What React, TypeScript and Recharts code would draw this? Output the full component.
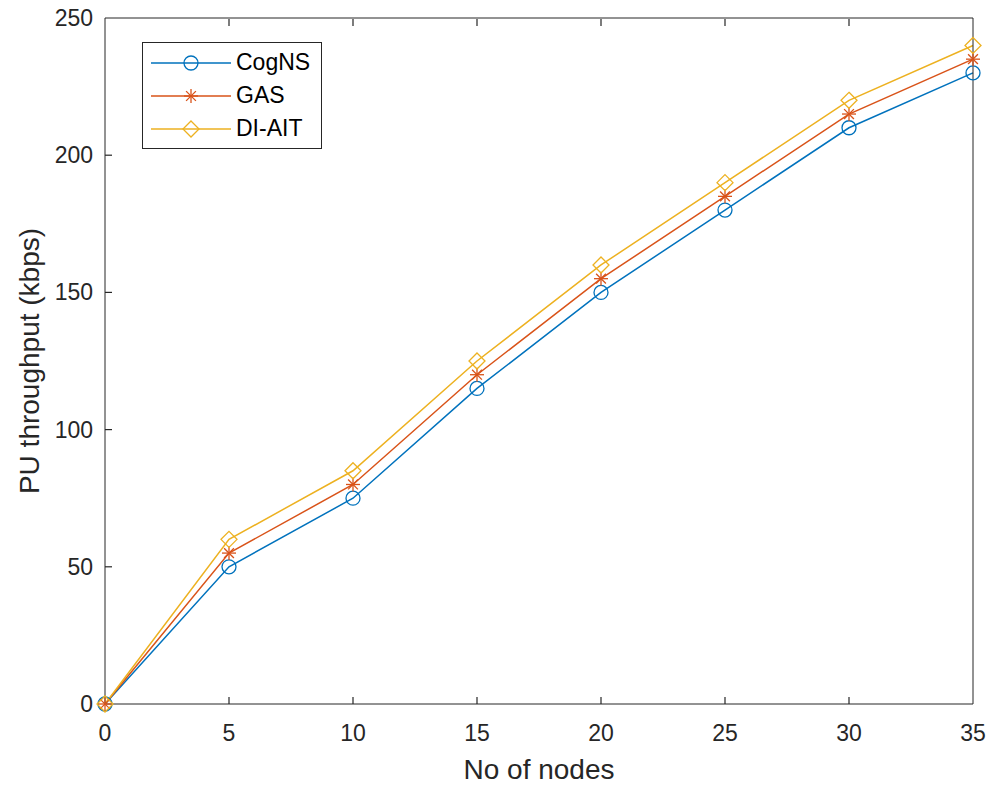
import { LineChart, Line, XAxis, YAxis } from 'recharts';

const nodes = [0, 5, 10, 15, 20, 25, 30, 35];
const cogns = [0, 50, 75, 115, 150, 180, 210, 230];
const gas = [0, 55, 80, 120, 155, 185, 215, 235];
const diait = [0, 60, 85, 125, 160, 190, 220, 240];
const xTicks = [0, 5, 10, 15, 20, 25, 30, 35];
const yTicks = [0, 50, 100, 150, 200, 250];

const series = [
	{ key: 'cogns', name: 'CogNS', color: '#0072BD', shape: 'circle' },
	{ key: 'gas', name: 'GAS', color: '#D95319', shape: 'star' },
	{ key: 'diait', name: 'DI-AIT', color: '#EDB120', shape: 'diamond' },
];

const data = nodes.map((n, i) => ({
	nodes: n,
	cogns: cogns[i],
	gas: gas[i],
	diait: diait[i],
}));

const AXIS = '#262626';
const FONT = '"Liberation Sans", Arial, sans-serif';
const TICK_LEN = 7;
const MARGIN = 16;

function Marker({ cx, cy, shape, color }: { cx: number; cy: number; shape: string; color: string }) {
	if (cx == null || cy == null) return null;
	if (shape === 'circle') {
		return <circle cx={cx} cy={cy} r={7} fill="none" stroke={color} strokeWidth={1.3} />;
	}
	if (shape === 'diamond') {
		const s = 8;
		return (
			<polygon
				points={`${cx},${cy - s} ${cx + s},${cy} ${cx},${cy + s} ${cx - s},${cy}`}
				fill="none"
				stroke={color}
				strokeWidth={1.3}
			/>
		);
	}
	// asterisk
	const s = 7;
	const d = s * 0.7;
	return (
		<g stroke={color} strokeWidth={1.3}>
			<line x1={cx} y1={cy - s} x2={cx} y2={cy + s} />
			<line x1={cx - s} y1={cy} x2={cx + s} y2={cy} />
			<line x1={cx - d} y1={cy - d} x2={cx + d} y2={cy + d} />
			<line x1={cx - d} y1={cy + d} x2={cx + d} y2={cy - d} />
		</g>
	);
}

// inward ticks, MATLAB style
const BottomTick = ({ x, y, payload }: any) => {
	const ay = y - MARGIN;
	return (
		<g>
			{payload.value !== 0 && payload.value !== 35 && (
				<line x1={x} y1={ay} x2={x} y2={ay - TICK_LEN} stroke={AXIS} strokeWidth={1.2} />
			)}
			<text x={x} y={y} dy={21} textAnchor="middle" fill={AXIS} fontSize={23} fontFamily={FONT}>
				{payload.value}
			</text>
		</g>
	);
};

const LeftTick = ({ x, y, payload }: any) => {
	const ax = x + MARGIN;
	return (
		<g>
			{payload.value !== 0 && payload.value !== 250 && (
				<line x1={ax} y1={y} x2={ax + TICK_LEN} y2={y} stroke={AXIS} strokeWidth={1.2} />
			)}
			<text x={x + 4} y={y} dy={8} textAnchor="end" fill={AXIS} fontSize={23} fontFamily={FONT}>
				{payload.value}
			</text>
		</g>
	);
};

const TopTick = ({ x, y, payload }: any) =>
	payload.value !== 0 && payload.value !== 35 ? (
		<line x1={x} y1={y + 1} x2={x} y2={y + 1 + TICK_LEN} stroke={AXIS} strokeWidth={1.2} />
	) : (
		<g />
	);

const RightTick = ({ x, y, payload }: any) =>
	payload.value !== 0 && payload.value !== 250 ? (
		<line x1={x - 1} y1={y} x2={x - 1 - TICK_LEN} y2={y} stroke={AXIS} strokeWidth={1.2} />
	) : (
		<g />
	);

function ChartLegend() {
	return (
		<div
			style={{
				position: 'absolute',
				left: 142,
				top: 42,
				border: `1px solid ${AXIS}`,
				background: '#fff',
				width: 178,
				padding: '3px 0',
				fontFamily: FONT,
				fontSize: 23,
				color: '#000',
			}}
		>
			{series.map((s) => (
				<div key={s.key} style={{ display: 'flex', alignItems: 'center', height: 33 }}>
					<svg width={92} height={24} style={{ marginLeft: 6 }}>
						<line x1={2} y1={12} x2={82} y2={12} stroke={s.color} strokeWidth={1.5} />
						<Marker cx={42} cy={12} shape={s.shape} color={s.color} />
					</svg>
					<span style={{ marginLeft: -5 }}>{s.name}</span>
				</div>
			))}
		</div>
	);
}

export default function App() {
	return (
		<div style={{ position: 'absolute', left: 0, top: 0, width: 992, height: 788, background: '#fff' }}>
			<LineChart width={992} height={788} data={data} margin={{ top: 17, right: 18, bottom: 4, left: 45 }}>
				<XAxis
					dataKey="nodes"
					type="number"
					domain={[0, 35]}
					ticks={xTicks}
					height={80}
					stroke={AXIS}
					tickLine={false}
					tickSize={0}
					tickMargin={MARGIN}
					tick={<BottomTick />}
					label={{ value: 'No of nodes', position: 'insideBottom', offset: 5, fill: AXIS, fontSize: 28, fontFamily: FONT }}
				/>
				<XAxis
					xAxisId="top"
					dataKey="nodes"
					type="number"
					orientation="top"
					domain={[0, 35]}
					ticks={xTicks}
					height={1}
					stroke={AXIS}
					tickLine={false}
					tickSize={0}
					tickMargin={0}
					tick={<TopTick />}
				/>
				<YAxis
					type="number"
					domain={[0, 250]}
					ticks={yTicks}
					width={60}
					stroke={AXIS}
					tickLine={false}
					tickSize={0}
					tickMargin={MARGIN}
					tick={<LeftTick />}
					label={{ value: 'PU throughput (kbps)', angle: -90, position: 'insideLeft', offset: -16, style: { textAnchor: 'middle' }, fill: AXIS, fontSize: 28, fontFamily: FONT }}
				/>
				<YAxis
					yAxisId="right"
					type="number"
					orientation="right"
					domain={[0, 250]}
					ticks={yTicks}
					width={1}
					stroke={AXIS}
					tickLine={false}
					tickSize={0}
					tickMargin={0}
					tick={<RightTick />}
				/>
				{series.map((s) => (
					<Line
						key={s.key}
						dataKey={s.key}
						name={s.name}
						stroke={s.color}
						strokeWidth={1.5}
						isAnimationActive={false}
						dot={(p: any) => <Marker key={`${s.key}-${p.index}`} cx={p.cx} cy={p.cy} shape={s.shape} color={s.color} />}
						activeDot={false}
					/>
				))}
			</LineChart>
			<ChartLegend />
		</div>
	);
}
